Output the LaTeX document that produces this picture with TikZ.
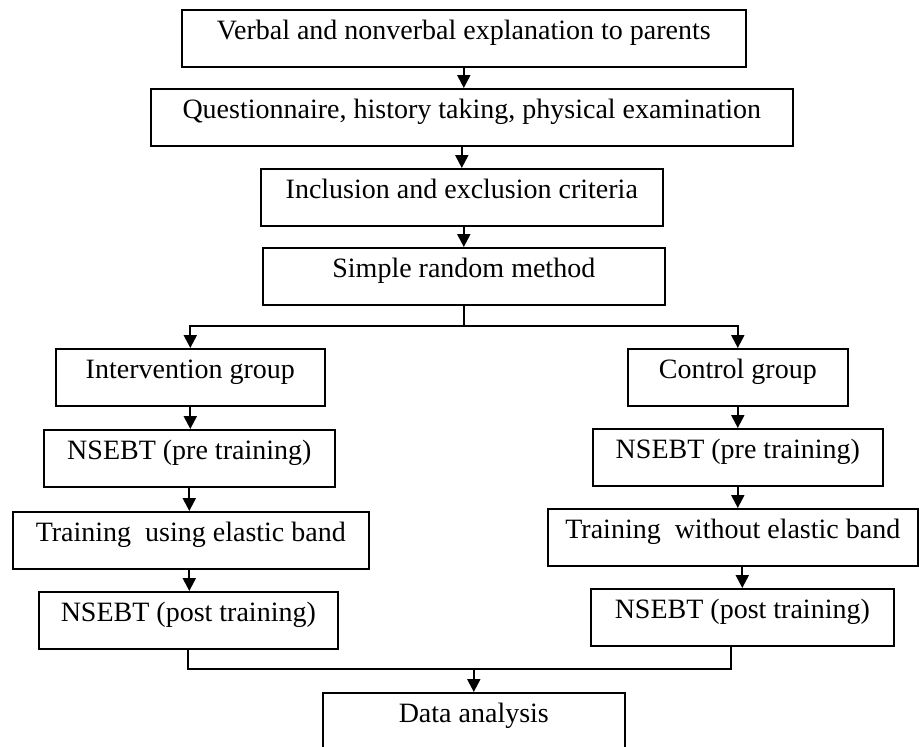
\documentclass[tikz,border=0pt]{standalone}
\usepackage{fontspec}
\setmainfont{Liberation Serif}
\usetikzlibrary{arrows.meta}
\tikzset{
  stagebox/.style={draw,line width=1.6pt,anchor=north west,inner xsep=0pt,inner ysep=0pt,
    text height=30pt,text depth=27pt,font=\fontsize{28}{32}\selectfont},
  arr/.style={line width=2.2pt,-{Triangle[width=13pt,length=13pt]}},
  joinline/.style={line width=1.4pt}
}
\begin{document}
\begin{tikzpicture}[x=1pt,y=-1pt]
  \useasboundingbox (0,0) rectangle (919,747);
  \clip (0,0) rectangle (919,747);
  % main column
  \node[stagebox,minimum width=564pt] (expl) at (181,9) {Verbal and nonverbal explanation to parents};
  \node[stagebox,minimum width=642pt] (quest) at (150,88) {Questionnaire, history taking, physical examination};
  \node[stagebox,minimum width=402pt] (crit) at (260,168) {Inclusion and exclusion criteria};
  \node[stagebox,minimum width=402pt] (rand) at (262,247) {Simple random method};
  % intervention branch
  \node[stagebox,minimum width=269pt] (interv) at (55,348) {Intervention group};
  \node[stagebox,minimum width=291pt] (preL) at (43,429) {NSEBT (pre training)};
  \node[stagebox,minimum width=356pt] (trainL) at (12,511) {Training~ using elastic band};
  \node[stagebox,minimum width=299pt] (postL) at (38,591) {NSEBT (post training)};
  % control branch
  \node[stagebox,minimum width=220pt] (ctrl) at (627,348) {Control group};
  \node[stagebox,minimum width=290pt] (preR) at (592,428) {NSEBT (pre training)};
  \node[stagebox,minimum width=370pt] (trainR) at (547,508) {Training~ without elastic band};
  \node[stagebox,minimum width=303pt] (postR) at (590,588) {NSEBT (post training)};
  \node[stagebox,minimum width=302pt] (data) at (322,692) {Data analysis};

  \draw[arr] (expl.south) -- (expl.south |- quest.north);
  \draw[arr] (crit.north |- quest.south) -- (crit.north);
  \draw[arr] (rand.north |- crit.south) -- (rand.north);
  \coordinate (split) at (0,326);
  \draw[joinline] (rand.south) -- (rand.south |- split);
  \draw[arr] (rand.south |- split) -| (interv.north);
  \draw[arr] (rand.south |- split) -| (ctrl.north);

  \draw[arr] (interv.south) -- (interv.south |- preL.north);
  \draw[arr] (preL.south) -- (preL.south |- trainL.north);
  \draw[arr] (preL.south |- trainL.south) -- (preL.south |- postL.north);

  \draw[arr] (ctrl.south) -- (ctrl.south |- preR.north);
  \draw[arr] (ctrl.south |- preR.south) -- (ctrl.south |- trainR.north);
  \draw[arr] (postR.north |- trainR.south) -- (postR.north);

  \coordinate (mL) at (188,669);
  \coordinate (mR) at (731,669);
  \draw[joinline] (mL |- postL.south) -- (mL) -- (mR) -- (mR |- postR.south);
  \draw[arr] (data.north |- mL) -- (data.north);
\end{tikzpicture}
\end{document}
